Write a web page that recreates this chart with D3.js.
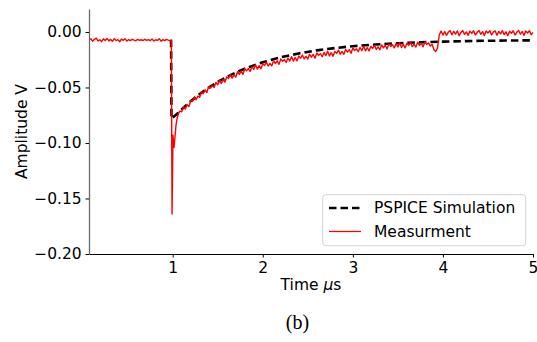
<!DOCTYPE html>
<html>
<head>
<meta charset="utf-8">
<script src="https://cdn.jsdelivr.net/npm/d3@7"></script>
<style>
  html, body { margin: 0; padding: 0; background: #fff; }
  svg { display: block; }
</style>
</head>
<body>
<svg id="chart" width="537" height="342"></svg>
<script>
// ---- data -------------------------------------------------------------
// PSPICE simulation (time in µs, amplitude in V), from the switching edge on
const simTime = [0.982, 0.987, 1.05, 1.1, 1.2, 1.3, 1.4, 1.5, 1.6, 1.7, 1.8, 1.9, 2.0,
                 2.2, 2.4, 2.6, 2.8, 3.0, 3.25, 3.5, 3.75, 4.0, 4.25, 4.5, 4.75, 5.0];
const simAmp  = [-0.0070, -0.0780, -0.0737, -0.0697, -0.0623, -0.0558, -0.0501, -0.0450,
                 -0.0405, -0.0366, -0.0331, -0.0301, -0.0273, -0.0228, -0.0193, -0.0166, -0.0145,
                 -0.0128, -0.0113, -0.0101, -0.0093, -0.0087, -0.0082, -0.0079, -0.0077, -0.0075];

// Measurement, pre-trigger record: sampled every 0.02 µs from 0.071 µs
const preStart = 0.071, preStep = 0.02;
const preAmp = [
  -0.0072,-0.0061,-0.0083,-0.0066,-0.0055,-0.0081,-0.0070,-0.0087,-0.0062,-0.0076,
  -0.0058,-0.0080,-0.0067,-0.0084,-0.0060,-0.0077,-0.0069,-0.0088,-0.0064,-0.0075,
  -0.0062,-0.0081,-0.0069,-0.0078,-0.0066,-0.0074,-0.0079,-0.0067,-0.0076,-0.0070,
  -0.0077,-0.0066,-0.0075,-0.0069,-0.0078,-0.0064,-0.0081,-0.0070,-0.0076,-0.0060,
  -0.0082,-0.0069,-0.0078,-0.0067,-0.0074,-0.0080
];

// Measurement around the switching edge (finely sampled)
const edgeTime = [0.985, 0.993, 1.003, 1.015, 1.025, 1.037, 1.05, 1.065];
const edgeAmp  = [-0.0072, -0.1640, -0.0930, -0.1040, -0.0950, -0.0840, -0.0775, -0.0730];

// Measurement, recovery record: sampled every 0.02 µs from 1.08 µs to 5.00 µs
const recStart = 1.08, recStep = 0.02;
const recAmp = [
  -0.0712,-0.0719,-0.0672,-0.0695,-0.0655,-0.0671,-0.0618,-0.0626,-0.0586,-0.0611,
  -0.0577,-0.0589,-0.0538,-0.0554,-0.0522,-0.0545,-0.0490,-0.0504,-0.0481,-0.0500,
  -0.0455,-0.0475,-0.0430,-0.0464,-0.0428,-0.0452,-0.0404,-0.0419,-0.0384,-0.0416,
  -0.0387,-0.0407,-0.0359,-0.0382,-0.0352,-0.0383,-0.0331,-0.0350,-0.0330,-0.0355,
  -0.0312,-0.0338,-0.0296,-0.0335,-0.0303,-0.0332,-0.0286,-0.0302,-0.0272,-0.0307,
  -0.0283,-0.0306,-0.0260,-0.0284,-0.0260,-0.0292,-0.0243,-0.0264,-0.0248,-0.0274,
  -0.0235,-0.0262,-0.0222,-0.0262,-0.0230,-0.0260,-0.0217,-0.0237,-0.0207,-0.0243,
  -0.0219,-0.0244,-0.0201,-0.0227,-0.0202,-0.0236,-0.0189,-0.0211,-0.0195,-0.0223,
  -0.0184,-0.0213,-0.0174,-0.0216,-0.0186,-0.0218,-0.0175,-0.0193,-0.0163,-0.0200,
  -0.0176,-0.0201,-0.0157,-0.0182,-0.0159,-0.0192,-0.0145,-0.0167,-0.0152,-0.0178,
  -0.0140,-0.0168,-0.0129,-0.0170,-0.0140,-0.0171,-0.0129,-0.0149,-0.0120,-0.0157,
  -0.0134,-0.0159,-0.0116,-0.0143,-0.0119,-0.0154,-0.0107,-0.0130,-0.0115,-0.0143,
  -0.0105,-0.0135,-0.0097,-0.0140,-0.0111,-0.0144,-0.0102,-0.0121,-0.0093,-0.0132,
  -0.0110,-0.0136,-0.0093,-0.0120,-0.0099,-0.0134,-0.0089,-0.0112,-0.0099,-0.0127,
  -0.0110,-0.0160,-0.0176,-0.0145,-0.0025, 0.0008,-0.0028, 0.0004,-0.0031,-0.0002,
   0.0012,-0.0025, 0.0006,-0.0019, 0.0010,-0.0034,-0.0004, 0.0013,-0.0022, 0.0001,
  -0.0030, 0.0008,-0.0013, 0.0011,-0.0027,-0.0005, 0.0014,-0.0021, 0.0003,-0.0032,
   0.0009,-0.0010, 0.0012,-0.0026,-0.0001, 0.0010,-0.0029, 0.0005,-0.0017, 0.0013,
  -0.0024, 0.0002,-0.0033, 0.0007,-0.0012, 0.0011,-0.0028,-0.0003, 0.0013,-0.0020,
   0.0004,-0.0030, 0.0009,-0.0009, 0.0012,-0.0025,-0.0004
];

const xTicks = [1, 2, 3, 4, 5];
const yTicks = [0.00, -0.05, -0.10, -0.15, -0.20];
const seriesNames = ["PSPICE Simulation", "Measurment"];

// ---- assemble point lists ---------------------------------------------
const simPoints = simTime.map((t, i) => [t, simAmp[i]]);
const measPoints = []
  .concat(preAmp.map((v, i) => [preStart + i * preStep, v]))
  .concat(edgeTime.map((t, i) => [t, edgeAmp[i]]))
  .concat(recAmp.map((v, i) => [recStart + i * recStep, v]));

// ---- layout -----------------------------------------------------------
const SANS = "'DejaVu Sans', sans-serif";
const SERIF = "'Liberation Serif', 'DejaVu Serif', serif";
const FS = 15.5;

const svg = d3.select("#chart");
const plot = { left: 89, right: 533, top: 9, bottom: 254 };

const x = d3.scaleLinear().domain([0.071, 5]).range([plot.left, plot.right]);
const y = d3.scaleLinear().domain([-0.2, 0.0207]).range([plot.bottom, plot.top]);

svg.append("defs").append("clipPath").attr("id", "plotClip")
  .append("rect")
  .attr("x", plot.left).attr("y", plot.top - 2)
  .attr("width", plot.right - plot.left + 2)
  .attr("height", plot.bottom - plot.top + 2);

const line = d3.line().x(d => x(d[0])).y(d => y(d[1]));

const g = svg.append("g").attr("clip-path", "url(#plotClip)");

g.append("path")
  .datum(simPoints)
  .attr("d", line)
  .attr("fill", "none")
  .attr("stroke", "#000")
  .attr("stroke-width", 2.6)
  .attr("stroke-dasharray", "7.5,4");

g.append("path")
  .datum(measPoints)
  .attr("d", line)
  .attr("fill", "none")
  .attr("stroke", "#ff0000")
  .attr("stroke-width", 1.4)
  .attr("stroke-linejoin", "round");

// ---- axes -------------------------------------------------------------
const yAxis = svg.append("g")
  .attr("transform", `translate(${plot.left},0)`)
  .call(d3.axisLeft(y).tickValues(yTicks).tickFormat(d3.format(".2f"))
        .tickSize(3.5).tickSizeOuter(0).tickPadding(3.8));
yAxis.select(".domain").attr("stroke", "#6a6a6a").attr("stroke-width", 1.3);
yAxis.selectAll(".tick line").attr("stroke", "#000").attr("stroke-width", 1);
yAxis.selectAll(".tick text").attr("fill", "#000")
  .style("font-size", FS + "px").style("font-family", SANS);

const xAxis = svg.append("g")
  .attr("transform", `translate(0,${plot.bottom})`)
  .call(d3.axisBottom(x).tickValues(xTicks).tickFormat(d3.format("d"))
        .tickSize(3.5).tickSizeOuter(0).tickPadding(4.5));
xAxis.select(".domain").attr("stroke", "#000").attr("stroke-width", 1.1);
xAxis.selectAll(".tick line").attr("stroke", "#000").attr("stroke-width", 1);
xAxis.selectAll(".tick text").attr("fill", "#000")
  .style("font-size", FS + "px").style("font-family", SANS);

// axis titles
svg.append("text")
  .attr("transform", `translate(22,${(plot.top + plot.bottom) / 2}) rotate(-90)`)
  .attr("text-anchor", "middle")
  .attr("dominant-baseline", "central")
  .style("font-size", FS + "px").style("font-family", SANS)
  .text("Amplitude V");

const xt = svg.append("text")
  .attr("x", (plot.left + plot.right) / 2)
  .attr("y", 285)
  .attr("text-anchor", "middle")
  .attr("dominant-baseline", "central")
  .style("font-size", FS + "px").style("font-family", SANS);
xt.append("tspan").text("Time ");
xt.append("tspan").style("font-style", "italic").text("\u03bc");
xt.append("tspan").text("s");

// ---- legend -----------------------------------------------------------
const lg = svg.append("g");
lg.append("rect")
  .attr("x", 322.7).attr("y", 194.7)
  .attr("width", 203).attr("height", 51)
  .attr("rx", 3).attr("ry", 3)
  .attr("fill", "#fff").attr("fill-opacity", 0.8)
  .attr("stroke", "#d5d5d5").attr("stroke-width", 1);

const entryY = [208, 231.5];
lg.append("line")
  .attr("x1", 329).attr("x2", 361).attr("y1", entryY[0]).attr("y2", entryY[0])
  .attr("stroke", "#000").attr("stroke-width", 2.6).attr("stroke-dasharray", "7.5,4");
lg.append("line")
  .attr("x1", 329).attr("x2", 361).attr("y1", entryY[1]).attr("y2", entryY[1])
  .attr("stroke", "#ff0000").attr("stroke-width", 1.25);
seriesNames.forEach((name, i) => {
  lg.append("text")
    .attr("x", 374).attr("y", entryY[i])
    .attr("dominant-baseline", "central")
    .style("font-size", FS + "px").style("font-family", SANS)
    .text(name);
});

// ---- caption ----------------------------------------------------------
svg.append("text")
  .attr("x", 297.5).attr("y", 322)
  .attr("text-anchor", "middle")
  .attr("dominant-baseline", "central")
  .style("font-family", SERIF)
  .style("font-size", "20px")
  .text("(b)");
</script>
</body>
</html>
